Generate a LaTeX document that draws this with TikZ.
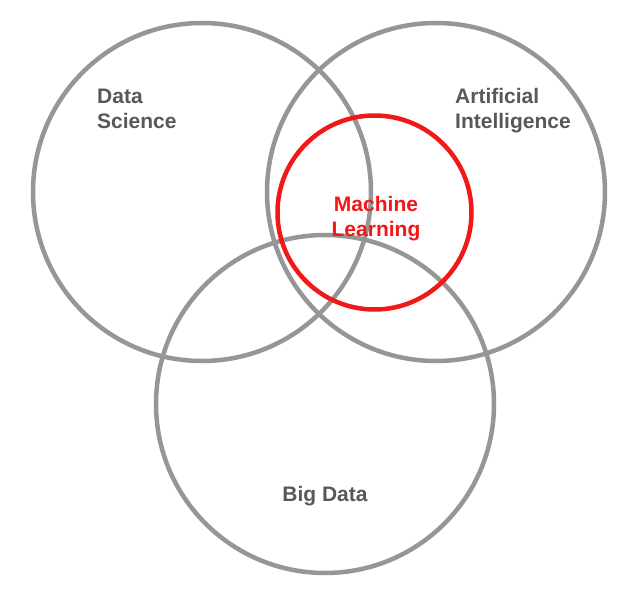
\documentclass[tikz,border=0pt]{standalone}
\usepackage{fontspec}
\setmainfont{Liberation Sans}
\definecolor{ringgray}{RGB}{150,150,150}
\definecolor{labelgray}{RGB}{88,88,88}
\definecolor{mlred}{RGB}{240,24,24}
\begin{document}
\begin{tikzpicture}[x=1pt,y=-1pt,
  ring/.style={draw=ringgray,line width=4.5pt},
  mlring/.style={draw=mlred,line width=4.5pt},
  lbl/.style={font=\bfseries\fontsize{21}{24.5}\selectfont,text=labelgray,inner sep=0pt},
  mllbl/.style={font=\bfseries\fontsize{21}{25}\selectfont,text=mlred,inner sep=0pt}]
\useasboundingbox (0,0) rectangle (641,600);
\fill[white] (0,0) rectangle (641,600);
\node[ring,circle,minimum size=338pt,inner sep=0pt] (ds) at (202,192) {};
\node[ring,circle,minimum size=338pt,inner sep=0pt] (ai) at (436,192) {};
\node[ring,circle,minimum size=338pt,inner sep=0pt] (bd) at (325,404) {};
\node[mlring,circle,minimum size=194pt,inner sep=0pt] (ml) at (374.5,212.5) {};
\node[lbl,align=left,anchor=base west] (dstext) at (97,128) {Data\\Science};
\node[lbl,align=left,anchor=base west] (aitext) at (455,128) {Artificial\\Intelligence};
\node[mllbl,align=center,anchor=base] (mltext) at (376,236) {Machine\\Learning};
\node[lbl,anchor=base] (bdtext) at (325,501) {Big Data};
\end{tikzpicture}
\end{document}
